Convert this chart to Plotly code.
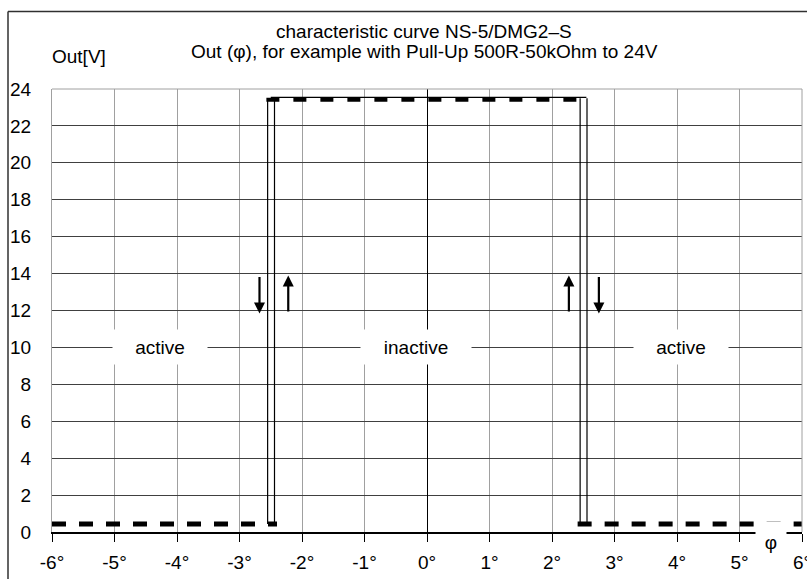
import plotly.graph_objects as go

# ---- data ----
x_tick_vals = [-6, -5, -4, -3, -2, -1, 0, 1, 2, 3, 4, 5, 6]
x_tick_text = ["-6°", "-5°", "-4°", "-3°", "-2°", "-1°", "0°", "1°", "2°", "3°", "4°", "5°", "6°"]
y_tick_vals = [0, 2, 4, 6, 8, 10, 12, 14, 16, 18, 20, 22, 24]

phi_low_left = [-6.0, -2.40]
out_low_left = [0.43, 0.43]
phi_low_right = [2.41, 6.0]
out_low_right = [0.43, 0.43]
phi_high = [-2.57, 2.59]
out_high = [23.42, 23.42]
phi_high_thin = [-2.50, 2.55]
out_high_thin = [23.55, 23.55]

phi_switch = [-2.55, -2.44, 2.45, 2.56]
out_switch_low = 0.43
out_switch_high = 23.5

arrow_phi = [-2.68, -2.22, 2.27, 2.75]
arrow_from = [13.9, 11.87, 11.87, 13.9]
arrow_to = [11.84, 13.9, 13.9, 11.84]

region_text = ["active", "inactive", "active"]
region_phi = [-4.27, -0.17, 4.07]
region_out = [10, 10, 10]
region_box_w = [92, 108, 92]

title_lines = ["characteristic curve NS-5/DMG2–S",
               "Out (φ), for example with Pull-Up 500R-50kOhm to 24V"]
y_title = "Out[V]"
x_title = "φ"

FONT = "Liberation Sans, Arial, sans-serif"

fig = go.Figure()

dash_style = dict(color="black", width=5, dash="14px,13px")
fig.add_trace(go.Scatter(x=phi_low_left, y=out_low_left, mode="lines", line=dash_style))
fig.add_trace(go.Scatter(x=phi_low_right, y=out_low_right, mode="lines", line=dash_style))
fig.add_trace(go.Scatter(x=phi_high_thin, y=out_high_thin, mode="lines",
                         line=dict(color="black", width=1.2)))
fig.add_trace(go.Scatter(x=phi_high, y=out_high, mode="lines",
                         line=dict(color="black", width=4, dash="13px,14px")))

sx, sy = [], []
for p in phi_switch:
    sx += [p, p, None]
    sy += [out_switch_low, out_switch_high, None]
fig.add_trace(go.Scatter(x=sx, y=sy, mode="lines", line=dict(color="black", width=1.2)))

annotations = []
# arrows
for p, a, b in zip(arrow_phi, arrow_from, arrow_to):
    annotations.append(dict(x=p, y=b, ax=p, ay=a, xref="x", yref="y", axref="x", ayref="y",
                            text="", showarrow=True, arrowhead=2, arrowsize=1.0,
                            arrowwidth=2.2, arrowcolor="black", standoff=0))
# region labels
for t, p, o, w in zip(region_text, region_phi, region_out, region_box_w):
    annotations.append(dict(x=p, y=o, xref="x", yref="y", text=t, showarrow=False,
                            bgcolor="white", width=w, height=32,
                            font=dict(family=FONT, size=19, color="black")))
# title lines
annotations.append(dict(x=0.496, y=(532 - 32) / 443, xref="paper", yref="paper",
                        text=title_lines[0], showarrow=False, xanchor="center", yanchor="middle",
                        font=dict(family=FONT, size=19, color="black")))
annotations.append(dict(x=0.496, y=(532 - 52) / 443, xref="paper", yref="paper",
                        text=title_lines[1], showarrow=False, xanchor="center", yanchor="middle",
                        font=dict(family=FONT, size=19, color="black")))
# axis titles
annotations.append(dict(x=-0.003, y=(532 - 57) / 443, xref="paper", yref="paper",
                        text=y_title, showarrow=False, xanchor="left", yanchor="middle",
                        font=dict(family=FONT, size=19, color="black")))
annotations.append(dict(x=(771 - 52) / 750, y=(532 - 542) / 443, xref="paper", yref="paper",
                        text=x_title, showarrow=False, xanchor="center", yanchor="middle",
                        bgcolor="white", width=28, height=38, valign="middle",
                        font=dict(family=FONT, size=19, color="black")))

shapes = [
    # outer frame (left and top edges)
    dict(type="line", xref="paper", yref="paper", x0=(8 - 52) / 750, x1=(8 - 52) / 750,
         y0=(532 - 11.5) / 443, y1=-0.3, line=dict(color="#303030", width=1.5)),
    dict(type="line", xref="paper", yref="paper", x0=(8 - 52) / 750, x1=1.1,
         y0=(532 - 11.5) / 443, y1=(532 - 11.5) / 443, line=dict(color="#303030", width=1.5)),
    # top & right plot border in gray
    dict(type="line", xref="paper", yref="paper", x0=0, x1=1, y0=1, y1=1,
         line=dict(color="#a0a0a0", width=1)),
    dict(type="line", xref="paper", yref="paper", x0=1, x1=1, y0=0, y1=1,
         line=dict(color="#a0a0a0", width=1)),
]

fig.update_layout(
    width=807, height=579,
    margin=dict(l=52, r=5, t=89, b=47, pad=0, autoexpand=False),
    paper_bgcolor="white", plot_bgcolor="white",
    showlegend=False, hovermode=False,
    font=dict(family=FONT, size=19, color="black"),
    annotations=annotations, shapes=shapes,
    xaxis=dict(range=[-6, 6], tickvals=x_tick_vals, ticktext=x_tick_text,
               automargin=False,
               showgrid=True, gridcolor="#a0a0a0", gridwidth=1,
               zeroline=True, zerolinecolor="black", zerolinewidth=1,
               showline=True, linecolor="black", linewidth=1.5,
               ticks="outside", ticklen=8, tickcolor="black", tickwidth=1,
               ticklabelstandoff=4, ticklabeloverflow="allow",
               tickfont=dict(family=FONT, size=19, color="black"), fixedrange=True),
    yaxis=dict(range=[0, 24], tickvals=y_tick_vals,
               automargin=False,
               showgrid=True, gridcolor="#404040", gridwidth=1,
               zeroline=False, showline=True, linecolor="#a0a0a0", linewidth=1,
               ticks="", ticklabelstandoff=16, ticklabeloverflow="allow",
               tickfont=dict(family=FONT, size=19, color="black"), fixedrange=True),
)

fig.write_html("out.html", config={"displayModeBar": False},
               post_script="document.body.style.margin='0';document.body.style.padding='0';"
                           "document.body.style.overflow='hidden';")
